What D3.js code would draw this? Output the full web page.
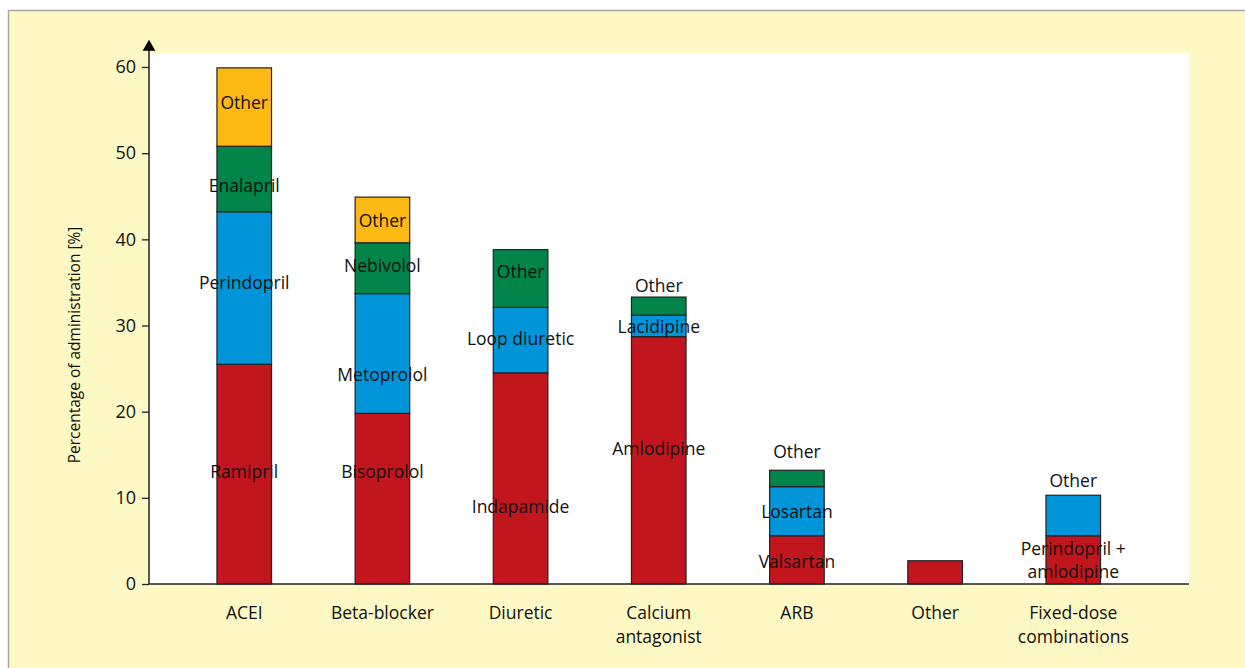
<!DOCTYPE html>
<html>
<head>
    <title>Antihypertensive drug classes</title>
    <script src="https://d3js.org/d3.v7.min.js"></script>
    <style>
        body { margin: 0; background-color: #ffffff; }
        text { font-family: "Open Sans", Lato, sans-serif; fill: #111; }
    </style>
</head>
<body>
    <div id="chart"></div>

    <script>
        // Drug classes on the x axis (multi-line labels)
        var categories = ["ACEI", "Beta-blocker", "Diuretic", "Calcium antagonist", "ARB", "Other", "Fixed-dose combinations"];
        var categoryLines = [["ACEI"], ["Beta-blocker"], ["Diuretic"], ["Calcium", "antagonist"], ["ARB"], ["Other"], ["Fixed-dose", "combinations"]];

        // Segment values (percent), bottom to top, per class
        var segValues = [
            [25.5, 17.7, 7.6, 9.1],
            [19.8, 13.9, 5.9, 5.3],
            [24.5, 7.6, 6.7],
            [28.7, 2.5, 2.1],
            [5.6, 5.7, 1.9],
            [2.7],
            [5.6, 4.7]
        ];
        var segNames = [
            ["Ramipril", "Perindopril", "Enalapril", "Other"],
            ["Bisoprolol", "Metoprolol", "Nebivolol", "Other"],
            ["Indapamide", "Loop diuretic", "Other"],
            ["Amlodipine", "Lacidipine", "Other"],
            ["Valsartan", "Losartan", "Other"],
            [""],
            ["Perindopril +\namlodipine", "Other"]
        ];
        // Where each segment label sits, in axis units
        var labelAt = [
            [13.0, 35.0, 46.2, 55.8],
            [13.0, 24.3, 36.9, 42.2],
            [8.9, 28.5, 36.2],
            [15.7, 29.8, 34.6],
            [2.6, 8.4, 15.3],
            [0],
            [2.8, 12.0]
        ];
        var yTicks = [0, 10, 20, 30, 40, 50, 60];
        var segColors = ["#c1161e", "#0095d9", "#00844a", "#fdb913"];

        var W = 1245, H = 668;
        var plot = { left: 149, right: 1189, top: 53, bottom: 584 };

        var svg = d3.select("#chart").append("svg")
            .attr("width", W)
            .attr("height", H);

        // Yellow panel with grey border
        svg.append("rect")
            .attr("x", 8.5).attr("y", 10.5)
            .attr("width", W).attr("height", H)
            .attr("fill", "#fef8c4")
            .attr("stroke", "#a9a9a9")
            .attr("stroke-width", 1.5);

        // White plot area
        svg.append("rect")
            .attr("x", plot.left).attr("y", plot.top)
            .attr("width", plot.right - plot.left)
            .attr("height", plot.bottom - plot.top)
            .attr("fill", "#ffffff");

        var x = d3.scaleBand()
            .domain(categories)
            .range([175.5, 1142])
            .paddingInner(0.605)
            .paddingOuter(0.3);

        var y = d3.scaleLinear()
            .domain([0, 60])
            .range([plot.bottom, 67]);

        // Stacked bars
        categories.forEach(function(cat, i) {
            var base = 0;
            var g = svg.append("g");
            segValues[i].forEach(function(v, j) {
                g.append("rect")
                    .attr("x", x(cat))
                    .attr("y", y(base + v))
                    .attr("width", x.bandwidth())
                    .attr("height", y(base) - y(base + v))
                    .attr("fill", segColors[j])
                    .attr("stroke", "#222")
                    .attr("stroke-width", 1.2);
                base += v;
            });
            segNames[i].forEach(function(name, j) {
                if (!name) return;
                var lines = name.split("\n");
                var t = g.append("text")
                    .attr("x", x(cat) + x.bandwidth() / 2)
                    .attr("y", y(labelAt[i][j]))
                    .attr("text-anchor", "middle")
                    .style("font-size", "17.5px");
                lines.forEach(function(l, k) {
                    t.append("tspan")
                        .attr("x", x(cat) + x.bandwidth() / 2)
                        .attr("dy", k === 0 ? (0.35 - (lines.length - 1) * 0.6) + "em" : "1.3em")
                        .text(l);
                });
            });
        });

        // Y axis
        var yAxis = svg.append("g")
            .attr("transform", "translate(" + plot.left + ",0)")
            .call(d3.axisLeft(y).tickValues(yTicks).tickSize(7).tickPadding(6));
        yAxis.select(".domain").remove();
        yAxis.selectAll("line").attr("stroke", "#222").attr("stroke-width", 1.3);
        yAxis.selectAll("text").style("font-size", "18px").style("font-family", "'Open Sans', sans-serif").attr("fill", "#111");

        svg.append("line")
            .attr("x1", plot.left).attr("x2", plot.left)
            .attr("y1", 50).attr("y2", plot.bottom)
            .attr("stroke", "#222").attr("stroke-width", 1.5);
        svg.append("path")
            .attr("d", d3.symbol(d3.symbolTriangle, 70)())
            .attr("transform", "translate(" + plot.left + ",47)")
            .attr("fill", "#000");

        // X axis baseline
        svg.append("line")
            .attr("x1", plot.left).attr("x2", plot.right)
            .attr("y1", plot.bottom).attr("y2", plot.bottom)
            .attr("stroke", "#222").attr("stroke-width", 1.5);

        // Category labels
        categories.forEach(function(cat, i) {
            var t = svg.append("text")
                .attr("x", x(cat) + x.bandwidth() / 2)
                .attr("y", 619)
                .attr("text-anchor", "middle")
                .style("font-size", "17.5px");
            categoryLines[i].forEach(function(l, k) {
                t.append("tspan")
                    .attr("x", x(cat) + x.bandwidth() / 2)
                    .attr("dy", k === 0 ? 0 : "1.35em")
                    .text(l);
            });
        });

        // Y axis title
        svg.append("text")
            .attr("transform", "translate(80,345) rotate(-90)")
            .attr("text-anchor", "middle")
            .style("font-size", "15.5px")
            .text("Percentage of administration [%]");
    </script>
</body>
</html>
